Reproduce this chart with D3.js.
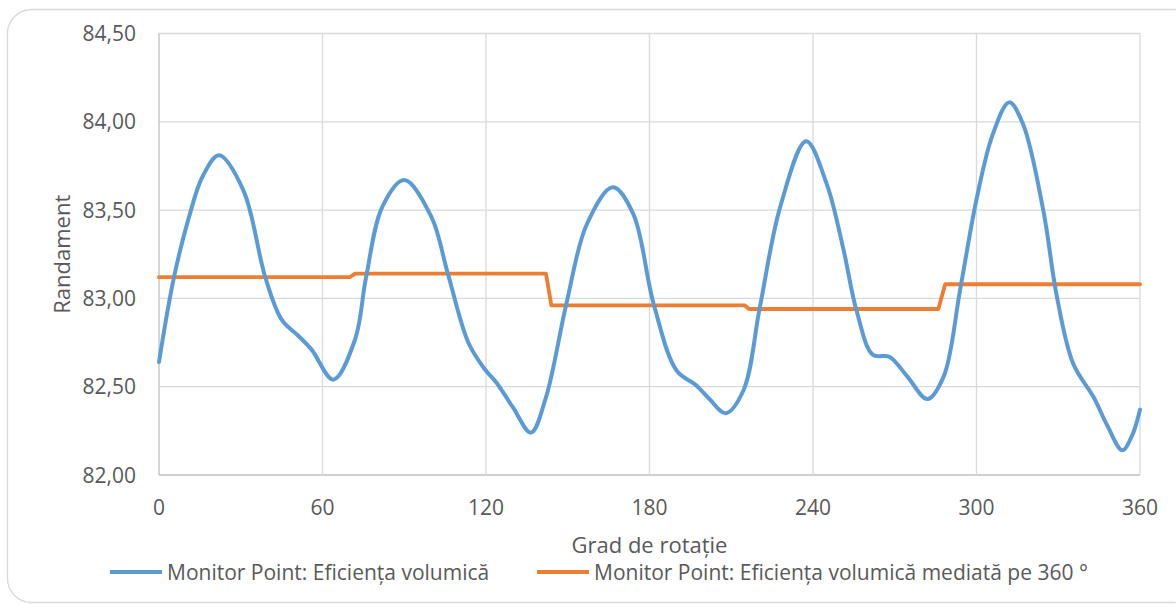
<!DOCTYPE html>
<html>
<head>
<meta charset="utf-8">
<script src="https://cdn.jsdelivr.net/npm/d3@7"></script>
<style>
  html, body { margin: 0; padding: 0; background: #fff; }
  svg { display: block; font-family: "Open Sans", sans-serif; }
</style>
</head>
<body>
<svg id="chart" width="1176" height="604"></svg>
<script>
// blue series: degrees of rotation and efficiency
const degrees = [0, 5.5, 11, 16, 22, 31, 39, 45, 51, 56, 64, 72, 76, 82, 90, 100, 106, 113.5, 119.5, 124, 130, 136.5,
  142, 149.5, 157, 166.5, 174, 181.5, 190, 197, 202, 208, 214.5, 220.5, 228, 237.5, 245, 251, 256, 262,
  268, 274.5, 282, 288, 294, 300, 306, 312, 317, 324.5, 329.5, 335.5, 343, 348, 353.5, 357, 360];
const efficiency = [82.64, 83.12, 83.46, 83.69, 83.81, 83.61, 83.12, 82.88, 82.79, 82.71, 82.54, 82.77, 83.12, 83.52,
  83.67, 83.46, 83.14, 82.75, 82.60, 82.52, 82.38, 82.24, 82.44, 82.97, 83.42, 83.63, 83.48, 82.97, 82.59,
  82.51, 82.43, 82.35, 82.48, 82.95, 83.52, 83.89, 83.65, 83.29, 82.93, 82.68, 82.67, 82.56, 82.43, 82.56,
  83.05, 83.56, 83.93, 84.11, 83.99, 83.50, 83.01, 82.63, 82.44, 82.28, 82.14, 82.22, 82.37];

// orange series: averaged over 360 degrees (step line)
const avgDegrees = [0, 70, 72, 142, 144, 215, 216.5, 286, 288.5, 360];
const avgEfficiency = [83.12, 83.12, 83.14, 83.14, 82.96, 82.96, 82.94, 82.94, 83.08, 83.08];

const xTicks = [0, 60, 120, 180, 240, 300, 360];
const yTicks = [82.0, 82.5, 83.0, 83.5, 84.0, 84.5];
const seriesNames = ["Monitor Point: Eficiența volumică", "Monitor Point: Eficiența volumică mediată pe 360 °"];
const colors = ["#5b9bd5", "#ed7d31"];

const svg = d3.select("#chart");
const plotLeft = 159, plotRight = 1140, plotTop = 33.5, plotBottom = 475;

// outer frame
svg.append("rect")
  .attr("x", 7.5).attr("y", 9.5)
  .attr("width", 1190).attr("height", 593)
  .attr("rx", 24)
  .attr("fill", "#fff").attr("stroke", "#d9d9d9").attr("stroke-width", 1.3);

const x = d3.scaleLinear().domain([0, 360]).range([plotLeft, plotRight]);
const y = d3.scaleLinear().domain([82, 84.5]).range([plotBottom, plotTop]);

const fmt = v => d3.format(".2f")(v).replace(".", ",");

// gridlines
svg.append("g").selectAll("line").data(yTicks).enter().append("line")
  .attr("x1", plotLeft).attr("x2", plotRight)
  .attr("y1", d => y(d)).attr("y2", d => y(d))
  .attr("stroke", d => d === 82 ? "#bfbfbf" : "#d9d9d9").attr("stroke-width", 1.3);
svg.append("g").selectAll("line").data(xTicks).enter().append("line")
  .attr("x1", d => x(d)).attr("x2", d => x(d))
  .attr("y1", plotTop).attr("y2", plotBottom)
  .attr("stroke", d => d === 0 ? "#bfbfbf" : "#d9d9d9").attr("stroke-width", 1.3);

// tick labels
svg.append("g").selectAll("text").data(yTicks).enter().append("text")
  .attr("x", 136).attr("y", d => y(d))
  .attr("dy", "0.36em")
  .attr("text-anchor", "end")
  .attr("font-size", 21).attr("fill", "#595959")
  .text(fmt);
svg.append("g").selectAll("text").data(xTicks).enter().append("text")
  .attr("x", d => x(d)).attr("y", 507)
  .attr("dy", "0.36em")
  .attr("text-anchor", "middle")
  .attr("font-size", 21).attr("fill", "#595959")
  .text(d => d);

// axis titles
svg.append("text")
  .attr("x", (plotLeft + plotRight) / 2).attr("y", 545).attr("dy", "0.36em")
  .attr("text-anchor", "middle")
  .attr("font-size", 22).attr("fill", "#595959")
  .text("Grad de rotație");
svg.append("text")
  .attr("transform", `translate(62,${(plotTop + plotBottom) / 2}) rotate(-90)`)
  .attr("dy", "0.36em")
  .attr("text-anchor", "middle")
  .attr("font-size", 22).attr("fill", "#595959")
  .text("Randament");

// series
const blue = degrees.map((d, i) => [d, efficiency[i]]);
const orange = avgDegrees.map((d, i) => [d, avgEfficiency[i]]);

svg.append("path")
  .datum(orange)
  .attr("fill", "none").attr("stroke", colors[1]).attr("stroke-width", 3.8)
  .attr("stroke-linejoin", "round").attr("stroke-linecap", "round")
  .attr("d", d3.line().x(d => x(d[0])).y(d => y(d[1])));

svg.append("path")
  .datum(blue)
  .attr("fill", "none").attr("stroke", colors[0]).attr("stroke-width", 4)
  .attr("stroke-linejoin", "round").attr("stroke-linecap", "round")
  .attr("d", d3.line().curve(d3.curveCatmullRom.alpha(0.5)).x(d => x(d[0])).y(d => y(d[1])));

// legend
const legendItems = [{ x0: 110, name: seriesNames[0], color: colors[0] }, { x0: 537, name: seriesNames[1], color: colors[1] }];
const lg = svg.append("g").selectAll("g").data(legendItems).enter().append("g");
lg.append("line")
  .attr("x1", d => d.x0).attr("x2", d => d.x0 + 52)
  .attr("y1", 572).attr("y2", 572)
  .attr("stroke", d => d.color).attr("stroke-width", 4);
lg.append("text")
  .attr("x", d => d.x0 + 57).attr("y", 572).attr("dy", "0.36em")
  .attr("font-size", 21).attr("fill", "#595959")
  .text(d => d.name);
</script>
</body>
</html>
